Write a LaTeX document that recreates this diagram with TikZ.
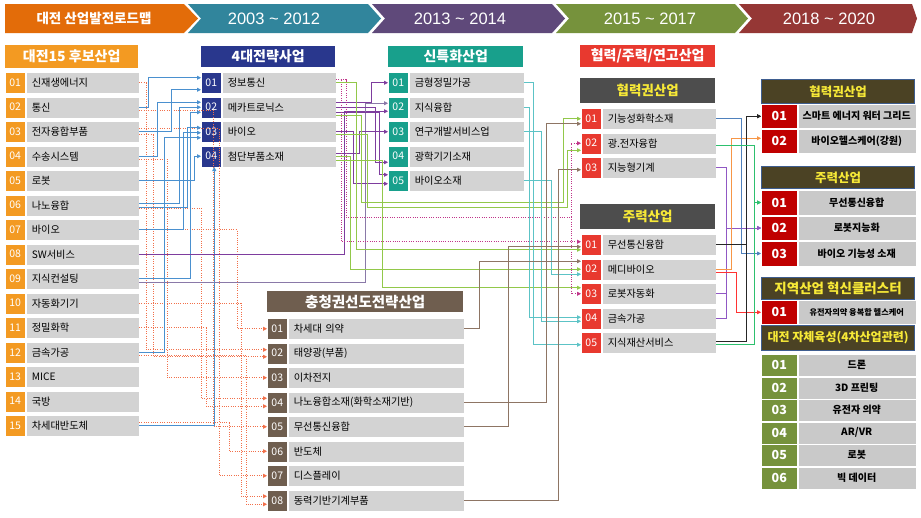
\documentclass[tikz,border=0pt]{standalone}
\usepackage{fontspec}
\setmainfont{Noto Sans CJK KR}
\newfontfamily\yearfont{Liberation Sans}
\usetikzlibrary{arrows.meta}
\definecolor{bOr}{HTML}{E36C09}
\definecolor{bTe}{HTML}{31859C}
\definecolor{bPu}{HTML}{5F497A}
\definecolor{bGr}{HTML}{76923C}
\definecolor{bRe}{HTML}{953735}
\definecolor{cA}{HTML}{F39A22}
\definecolor{cB}{HTML}{29378D}
\definecolor{cC}{HTML}{18A08C}
\definecolor{cD}{HTML}{E8392F}
\definecolor{cF}{HTML}{6F5E4F}
\definecolor{cDark}{HTML}{4D4D4D}
\definecolor{yel}{HTML}{F7E937}
\definecolor{cR}{HTML}{C00000}
\definecolor{cHR}{HTML}{4B4224}
\definecolor{cHRb}{HTML}{3E5D8F}
\definecolor{cJ}{HTML}{76923C}
\definecolor{rowgray}{HTML}{D3D3D3}
\definecolor{rowgrayR}{HTML}{C9C9C9}
\definecolor{kBlu}{HTML}{4A90CF}
\definecolor{kRd}{HTML}{F2704A}
\definecolor{kPur}{HTML}{7E3D9E}
\definecolor{kPurL}{HTML}{8A79A8}
\definecolor{kGrn}{HTML}{92C84A}
\definecolor{kMag}{HTML}{C0358A}
\definecolor{kBrn}{HTML}{8E7564}
\definecolor{kTel}{HTML}{5CC3C6}
\definecolor{kBlu2}{HTML}{4F81BD}
\definecolor{kBlk}{HTML}{262626}
\definecolor{kGrn2}{HTML}{2DC06E}
\definecolor{kOrg}{HTML}{F79646}
\definecolor{kRed}{HTML}{FF3333}
\definecolor{kPrp}{HTML}{9058C4}

\newcommand\rowL[7]{%
  \node[numbox,fill=#5] (#1n) at (#2,#3) {#6};
  \node[lblbox,text width=#4] (#1) at (#1n.north east) {#7};}
\newcommand\rowR[6]{%
  \node[numR,fill=#4,minimum height=#3] (#1n) at (761,#2) {#5};
  \node[lblR,minimum height=#3] (#1) at (#1n.north east) {#6};}

\begin{document}
\begin{tikzpicture}[x=1pt,y=-1pt,
  numbox/.style={anchor=north west,minimum width=20pt,minimum height=21pt,inner sep=0pt,text=white,font=\fontsize{10.5}{11}\selectfont,draw=white,line width=0.5pt},
  lblbox/.style={anchor=north west,minimum height=21pt,inner ysep=0pt,inner xsep=6pt,fill=rowgray,draw=white,line width=0.5pt,align=left,font=\fontsize{10.2}{11}\selectfont},
  numR/.style={anchor=north west,minimum width=36pt,inner sep=0pt,text=white,font=\bfseries\fontsize{12.5}{13}\selectfont,draw=white,line width=0.5pt},
  lblR/.style={anchor=north west,minimum width=118pt,inner sep=0pt,fill=rowgrayR,draw=white,line width=0.5pt,font=\bfseries\fontsize{10}{11}\selectfont},
  hdr/.style={anchor=north west,inner sep=0pt,text=white,font=\bfseries\fontsize{14}{15}\selectfont},
  hdrR/.style={anchor=north west,inner sep=0pt,fill=cHR,draw=cHRb,line width=1.2pt,text=yel,minimum width=153pt,font=\bfseries\fontsize{12.5}{13}\selectfont},
  bann/.style={text=white,inner sep=0pt},
  tipA/.style={-{Triangle[length=4pt,width=4pt]}},
  blu/.style={draw=kBlu,line width=0.8pt,tipA},
  rdot/.style={draw=kRd,line width=0.9pt,dash pattern=on 1pt off 1.3pt,tipA},
  mdot/.style={draw=kMag,line width=0.9pt,dash pattern=on 1pt off 1.3pt,tipA},
  pur/.style={draw=kPur,line width=0.8pt,tipA},
  purl/.style={draw=kPurL,line width=0.8pt,tipA},
  grn/.style={draw=kGrn,line width=0.8pt,tipA},
  brn/.style={draw=kBrn,line width=0.8pt,tipA},
  tel/.style={draw=kTel,line width=0.8pt,tipA},
  rblu/.style={draw=kBlu2,line width=0.8pt,tipA},
  rblk/.style={draw=kBlk,line width=0.8pt,tipA},
  rgrn/.style={draw=kGrn2,line width=0.8pt,tipA},
  rorg/.style={draw=kOrg,line width=0.8pt,tipA},
  rred/.style={draw=kRed,line width=0.8pt,tipA},
  rprp/.style={draw=kPrp,line width=0.8pt,tipA}]
\useasboundingbox (0,0) rectangle (921,517);
\fill[white] (0,0) rectangle (921,517);

% ---------- banner ----------
\fill[bOr] (5,4) -- (184,4) -- (198,18.5) -- (184,33) -- (5,33) -- cycle;
\fill[bTe] (188,4) -- (368,4) -- (381,18.5) -- (368,33) -- (188,33) -- (201,18.5) -- cycle;
\fill[bPu] (372,4) -- (552,4) -- (565,18.5) -- (552,33) -- (372,33) -- (385,18.5) -- cycle;
\fill[bGr] (556,4) -- (735,4) -- (748,18.5) -- (735,33) -- (556,33) -- (569,18.5) -- cycle;
\fill[bRe] (739,4) -- (912,4) -- (917,18.5) -- (912,33) -- (739,33) -- (752,18.5) -- cycle;
\node[bann,font=\bfseries\fontsize{13.5}{14}\selectfont] (ban0) at (94,18.5) {대전 산업발전로드맵};
\node[bann,font=\yearfont\fontsize{16.5}{17}\selectfont] (ban1) at (274,18.5) {2003 \char`\~{} 2012};
\node[bann,font=\yearfont\fontsize{16.5}{17}\selectfont] (ban2) at (460,18.5) {2013 \char`\~{} 2014};
\node[bann,font=\yearfont\fontsize{16.5}{17}\selectfont] (ban3) at (650,18.5) {2015 \char`\~{} 2017};
\node[bann,font=\yearfont\fontsize{16.5}{17}\selectfont] (ban4) at (829,18.5) {2018 \char`\~{} 2020};

% ---------- headers ----------
\node[hdr,fill=cA,minimum width=133pt,minimum height=23pt] (hA) at (5,45) {대전15 후보산업};
\node[hdr,fill=cB,minimum width=134pt,minimum height=21pt] (hB) at (201,46) {4대전략사업};
\node[hdr,fill=cC,minimum width=135pt,minimum height=21pt] (hC) at (388,46) {신특화산업};
\node[hdr,fill=cD,minimum width=135pt,minimum height=22pt] (hD0) at (580,45) {협력/주력/연고산업};
\node[hdr,fill=cDark,text=yel,minimum width=135pt,minimum height=25pt,font=\bfseries\fontsize{13.5}{14}\selectfont] (hD) at (580,78) {협력권산업};
\node[hdr,fill=cDark,text=yel,minimum width=135pt,minimum height=25pt,font=\bfseries\fontsize{13.5}{14}\selectfont] (hE) at (580,204) {주력산업};
\node[hdr,fill=cF,minimum width=196pt,minimum height=21pt,font=\bfseries\fontsize{14.5}{15}\selectfont] (hF) at (267,291) {충청권선도전략산업};
\node[hdrR,minimum height=24pt] (hG) at (761,79) {협력권산업};
\node[hdrR,minimum height=22pt] (hH) at (761,166) {주력산업};
\node[hdrR,minimum height=22pt,font=\bfseries\fontsize{13.5}{14}\selectfont] (hI) at (761,277) {지역산업 혁신클러스터};
\node[hdrR,minimum height=25pt,font=\bfseries\fontsize{12}{12}\selectfont] (hJ) at (761,325) {대전 자체육성(4차산업관련)};

% ---------- rows ----------
\foreach \n/\t [count=\k] in {01/신재생에너지,02/통신,03/전자융합부품,04/수송시스템,05/로봇,06/나노융합,07/바이오,08/SW서비스,09/지식컨설팅,10/자동화기기,11/정밀화학,12/금속가공,13/MICE,14/국방,15/차세대반도체}{
  \pgfmathsetmacro\yy{72+24.5*(\k-1)}
  \rowL{A\k}{5}{\yy}{101pt}{cA}{\n}{\t}}
\foreach \n/\t [count=\k] in {01/정보통신,02/메카트로닉스,03/바이오,04/첨단부품소재}{
  \pgfmathsetmacro\yy{72+24.5*(\k-1)}
  \rowL{B\k}{201}{\yy}{102pt}{cB}{\n}{\t}}
\foreach \n/\t [count=\k] in {01/금형정밀가공,02/지식융합,03/연구개발서비스업,04/광학기기소재,05/바이오소재}{
  \pgfmathsetmacro\yy{72+24.5*(\k-1)}
  \rowL{C\k}{388}{\yy}{103pt}{cC}{\n}{\t}}
\foreach \n/\t [count=\k] in {01/기능성화학소재,02/광.전자융합,03/지능형기계}{
  \pgfmathsetmacro\yy{108+24.5*(\k-1)}
  \rowL{D\k}{581}{\yy}{102pt}{cD}{\n}{\t}}
\foreach \n/\t [count=\k] in {01/무선통신융합,02/메디바이오,03/로봇자동화,04/금속가공,05/지식재산서비스}{
  \pgfmathsetmacro\yy{234+24.5*(\k-1)}
  \rowL{E\k}{581}{\yy}{102pt}{cD}{\n}{\t}}
\foreach \n/\t [count=\k] in {01/차세대 의약,02/태양광(부품),03/이차전지,04/나노융합소재(화학소재기반),05/무선통신융합,06/반도체,07/디스플레이,08/동력기반기계부품}{
  \pgfmathsetmacro\yy{318+24.5*(\k-1)}
  \rowL{F\k}{267}{\yy}{164pt}{cF}{\n}{\t}}

\rowR{G1}{104}{24pt}{cR}{01}{스마트 에너지 워터 그리드}
\rowR{G2}{129}{24pt}{cR}{02}{바이오헬스케어(강원)}
\rowR{H1}{190}{24.5pt}{cR}{01}{무선통신융합}
\rowR{H2}{215.5}{24.5pt}{cR}{02}{로봇지능화}
\rowR{H3}{241}{24.5pt}{cR}{03}{바이오 기능성 소재}
\rowR{I1}{300}{24pt}{cR}{01}{\fontsize{8.2}{9}\selectfont 유전자의약 융복합 헬스케어}
\rowR{J1}{354}{22pt}{cJ}{01}{드론}
\rowR{J2}{376.5}{22pt}{cJ}{02}{3D 프린팅}
\rowR{J3}{399}{22pt}{cJ}{03}{유전자 의약}
\rowR{J4}{421.5}{22pt}{cJ}{04}{AR/VR}
\rowR{J5}{444}{22pt}{cJ}{05}{로봇}
\rowR{J6}{466.5}{22pt}{cJ}{06}{빅 데이터}

% ---------- dotted: 대전15 -> 충청권 ----------
\draw[rdot] (A7.east) -- ++(98,0) |- (F1n.west);
\draw[rdot] (A1.east) -- ++(7,0) |- ([yshift=3.5pt]F2n.west);
\draw[rdot] ([yshift=-3pt]A3.east) -- ++(14,0) |- ([yshift=-3.5pt]F2n.west);
\draw[rdot] ([yshift=-3pt]A4.east) -- ++(28,0) |- (F3n.west);
\draw[rdot] ([yshift=-3pt]A6.east) -- ++(62,0) |- ([yshift=4pt]F4n.west);
\draw[rdot] (A11.east) -- ++(67,0) |- ([yshift=-4pt]F4n.west);
\draw[rdot] ([yshift=-3pt]A2.east) -- ++(74,0) |- (F5n.west);
\draw[rdot] ([yshift=3pt]A15.east) -- ++(90,0) |- (F6n.west);
\draw[rdot] ([yshift=3pt]A3.east) -- ++(80,0) |- (F7n.west);
\draw[rdot] (A10.east) -- ++(102,0) |- ([yshift=4pt]F8n.west);
\draw[rdot] ([yshift=-3pt]A12.east) -- ++(107,0) |- ([yshift=-4pt]F8n.west);

% ---------- blue: 대전15 -> 4대전략 ----------
\draw[blu] (A2.east) -- ++(9,0) |- ([yshift=5pt]B1n.west);
\draw[blu] (A3.east) -- ++(32,0) |- ([yshift=-7pt]B1n.west);
\draw[blu] (A4.east) -- ++(18,0) |- ([yshift=5pt]B2n.west);
\draw[blu] ([yshift=2pt]A6.east) -- ++(40,0) |- (B2n.west);
\draw[blu] ([yshift=-2pt]A6.east) -- ++(48,0) |- ([yshift=4pt]B3n.west);
\draw[blu] (A7.east) -- ++(44,0) |- ([yshift=-1pt]B3n.west);
\draw[blu] (A9.east) -- ++(51,0) |- ([yshift=-5pt]B2n.west);
\draw[blu] (A12.east) -- ++(25,0) |- ([yshift=-6pt]B3n.west);
\draw[blu] (A5.east) -- ++(55,0) |- (B4n.west);
\draw[blu] (A15.east) -| ([xshift=3pt]B4n.south);

% ---------- 4대전략 / 대전15 -> 신특화 ----------
\draw[pur] (A8.east) -- ++(205,0) |- ([yshift=-4pt]C2n.west);
\draw[purl] ([yshift=-4pt]A9.east) -- ++(226,0) |- ([yshift=4pt]C2n.west);
\draw[pur] ([yshift=5pt]B2.east) -- ++(35,0) |- (C1n.west);
\draw[pur] (B2.east) -- ++(39,0) |- ([yshift=-6pt]C4n.west);
\draw[pur] ([yshift=-5pt]B2.east) -- ++(43,0) |- ([yshift=6pt]C5n.west);
\draw[pur] (B3.east) -- ++(17,0) |- ([yshift=-3pt]C5n.west);
\draw[pur] ([yshift=3pt]B4.east) -- ++(23,0) |- (C3n.west);

% ---------- 4대전략 -> 협력/주력 (green, magenta dotted) ----------
\draw[mdot] ([yshift=3pt]B1.east) -- ++(5,0) |- ([yshift=3pt]E1n.west);
\draw[mdot] ([yshift=3pt]B1.east) -| (346,217) -- (571,217) |- (D2n.west);
\draw[mdot] (571,217) |- (E3n.west);
\draw[grn] (B1.east) -- ++(20,0) |- ([yshift=-5pt]E1n.west);
\draw[grn] (B4.east) -- ++(14,0) |- (E2n.west);
\draw[grn] ([yshift=-8pt]B2.east) -| (361,202) -- (563,202) |- ([yshift=0pt]D1n.west);
\draw[grn] ([yshift=-3pt]B3.east) -| (367,207) -- (567,207) |- ([yshift=-7pt]D2n.west);
\draw[grn] ([yshift=-4pt]B4.east) -- ++(46,0) |- ([yshift=6pt]E3n.west);

% ---------- 신특화 -> 주력 (teal) ----------
\draw[tel] (C1.east) -- ++(9,0) |- ([yshift=-2pt]E5n.west);
\draw[tel] (C2.east) -- ++(5,0) |- ([yshift=1pt]E4n.west);
\draw[tel] (C3.east) -- ++(17,0) |- ([yshift=-3pt]E4n.west);
\draw[tel] (C5.east) -- ++(27,0) |- ([yshift=-5pt]E2n.west);

% ---------- 충청권 -> 협력/주력 (brown) ----------
\draw[brn] (F1.east) -- ++(15,0) |- ([yshift=8pt]E2n.west);
\draw[brn] (F4.east) -- ++(82,0) |- ([yshift=-5pt]D1n.west);
\draw[brn] (F5.east) -- ++(44,0) |- ([yshift=-2pt]E1n.west);
\draw[brn] (F8.east) -- ++(94,0) |- ([yshift=-2pt]D3n.west);

% ---------- 협력/주력 -> 2018~2020 ----------
\draw[rprp] (D3.east) -- ++(10,0) |- (H2n.west);
\draw[rprp] (E3.east) -- ++(10,0) |- (H2n.west);
\draw[rprp] (E4.east) -- ++(10,0) |- (H2n.west);
\draw[rorg] (E2.east) -- ++(15,0) |- ([yshift=3pt]G2n.west);
\draw[rred] ([yshift=-3pt]E2.east) -- ++(20,0) |- (I1n.west);
\draw[rblu] (D1.east) -- ++(25,0) |- (H3n.west);
\draw[rblk] (E1.east) -- ++(30,0) |- (G1n.west);
\draw[rblk] ([yshift=1pt]E5.east) -- ++(30,0) |- (G1n.west);
\draw[rgrn] ([yshift=-2pt]D2.east) -- ++(38,0) |- (H1n.west);
\draw[rgrn] ([yshift=-2pt]E5.east) -- ++(38,0) |- (H1n.west);
\end{tikzpicture}
\end{document}
